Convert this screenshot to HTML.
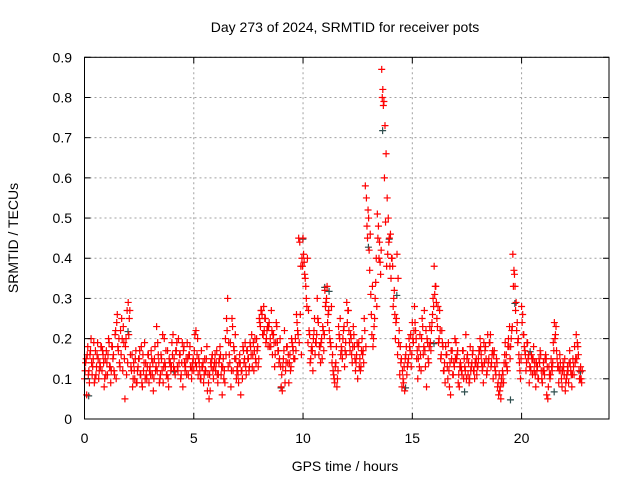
<!DOCTYPE html>
<html><head><meta charset="utf-8">
<style>
html,body{margin:0;padding:0;background:#fff;}
svg{display:block;font-family:"Liberation Sans",sans-serif;}
</style></head>
<body>
<svg id="chart" width="640" height="480" viewBox="0 0 640 480" xmlns="http://www.w3.org/2000/svg">
<rect x="0" y="0" width="640" height="480" fill="#fff"/>
<text x="345" y="32" font-size="14" text-anchor="middle" fill="#000">Day 273 of 2024, SRMTID for receiver pots</text>
<text x="0" y="0" font-size="14" text-anchor="middle" fill="#000" transform="translate(18,238) rotate(-90)">SRMTID / TECUs</text>
<text x="345" y="471" font-size="14" text-anchor="middle" fill="#000">GPS time / hours</text>
<g id="grid"></g>
<g id="red"></g>
<g id="axes"></g>
</svg>
<script>
const xTicks=[0,5,10,15,20];
const yTicks=[0,0.1,0.2,0.3,0.4,0.5,0.6,0.7,0.8,0.9];
const yTickLabels=["0","0.1","0.2","0.3","0.4","0.5","0.6","0.7","0.8","0.9"];
const redA=[
.10,.14,.06,.18,.12,.16,.20,.11,.15,.09,.17,.13,.19,.10,.14,.18,.12,.16,.08,.15,
.17,.11,.20,.13,.09,.18,.15,.12,.21,.10,.26,.17,.14,.22,.25,.12,.19,.05,.20,.27,
.29,.25,.16,.12,.08,.14,.10,.17,.09,.13,.15,.11,.18,.08,.12,.19,.14,.10,.16,.09,
.13,.17,.11,.07,.15,.12,.23,.19,.14,.10,.16,.12,.09,.20,.13,.11,.17,.08,.14,.12,
.19,.21,.15,.11,.17,.13,.20,.16,.10,.14,.08,.18,.12,.15,.19,.11,.16,.13,.10,.14,
.12,.21,.22,.16,.11,.14,.10,.17,.13,.09,.15,.12,.18,.11,.05,.07,.13,.16,.10,.14,
.12,.17,.09,.14,.18,.11,.06,.15,.12,.20,.25,.30,.19,.14,.08,.25,.12,.17,.21,.10,
.13,.09,.16,.06,.12,.18,.14,.19,.11,.17,.15,.13,.18,.21,.16,.12,.20,.14,.17,.13,
.25,.23,.27,.21,.28,.25,.19,.22,.18,.24,.20,.27,.16,.21,.13,.19,.23,.17,.14,.20,
.08,.07,.15,.22,.12,.18,.14,.09,.16,.13,.19,.17,.15,.20,.26,.22,.45,.44,.38,.40,
.45,.39,.35,.30,.40,.27,.21,.15,.18,.12,.22,.16,.19,.30,.24,.18,.14,.20,.23,.17,
.32,.29,.33,.26,.22,.19,.28,.16,.11,.09,.14,.08,.12,.21,.25,.18,.15,.22,.13,.19,
.29,.27,.22,.17,.20,.14,.23,.18,.12,.16,.10,.19,.15,.13,.20,.17,.25,.58,.55,.45,
.50,.37,.31,.21,.18,.23,.30,.40,.51,.48,.44,.36,.87,.82,.79,.73,.66,.55,.50,.45,
.46,.40,.38,.30,.26,.24,.41,.35,.22,.18,.15,.12,.09,.07,.16,.11,.14,.20,.17,.13,
.24,.19,.28,.22,.15,.10,.18,.21,.12,.25,.16,.27,.13,.08,.19,.14,.23,.17,.24,.30,
.38,.33,.29,.23,.19,.27,.15,.22,.18,.12,.09,.16,.13,.19,.08,.06,.15,.11,.14,.20,
.19,.16,.09,.08,.14,.12,.17,.10,.13,.21,.15,.11,.09,.18,.13,.16,.12,.10,.14,.11,
.13,.17,.20,.16,.12,.09,.14,.18,.11,.21,.15,.19,.13,.16,.10,.17,.12,.15,.08,.06,
.07,.05,.09,.11,.14,.19,.16,.12,.20,.23,.18,.22,.41,.37,.33,.29,.24,.20,.14,.10,
.28,.26,.21,.17,.12,.19,.15,.09,.13,.16,.11,.18,.14,.08,.12,.10,.15,.17,.12,.09,
.14,.11,.16,.06,.05,.13,.10,.15,.12,.19,.24,.21,.17,.13,.09,.16,.12,.08,.14,.11,
.07,.10,.13,.09,.17,.12,.08,.15,.11,.14,.21,.19,.16,.10,.13,.09];
const redB=[
.12,.16,.09,.14,.19,.11,.15,.13,.17,.10,
.14,.19,.12,.16,.22,.18,.13,.20,.15,.11,
.21,.13,.10,.15,.12,.17,.09,.14,.11,.16,
.11,.14,.18,.12,.09,.15,.13,.17,.10,.14,
.16,.12,.19,.14,.11,.17,.13,.15,.18,.12,
.17,.13,.15,.10,.14,.12,.07,.11,.15,.13,
.14,.11,.16,.13,.09,.22,.16,.12,.18,.15,
.11,.14,.10,.15,.17,.12,.16,.19,.15,.18,
.24,.26,.22,.20,.23,.18,.21,.16,.19,.15,
.11,.17,.14,.16,.12,.18,.15,.24,.19,.16,
.41,.33,.19,.14,.17,.25,.21,.16,.19,.22,
.28,.24,.20,.14,.10,.18,.23,.16,.20,.17,
.24,.19,.16,.21,.14,.18,.12,.16,.22,.48,
.42,.26,.20,.34,.45,.39,.80,.60,.38,.44,
.35,.28,.20,.16,.11,.08,.13,.18,.15,.21,
.20,.24,.17,.13,.20,.18,.22,.15,.19,.26,
.31,.25,.20,.16,.12,.18,.10,.14,.17,.13,
.15,.11,.13,.17,.12,.16,.10,.14,.12,.15,
.15,.18,.13,.17,.12,.19,.14,.16,.11,.09,
.08,.12,.16,.13,.18,.20,.33,.27,.19,.12,
.24,.18,.14,.16,.12,.15,.11,.13,.14,.10,
.12,.15,.08,.11,.14,.20,.15,.12,.10,.13,
.09,.12,.14,.11,.18,.15,.12,.10];
const redC=[
.15,.11,.17,.13,.10,.16,.12,.18,.14,.11,
.16,.13,.18,.11,.24,.20,.16,.23,.18,.14,
.27,.16,.12,.09,.15,.11,.16,.10,.13,.12,
.15,.10,.13,.16,.11,.21,.14,.11,.15,.13,
.13,.17,.12,.16,.19,.14,.11,.16,.13,.15,
.14,.20,.12,.13,.11,.15,.09,.14,.12,.16,
.11,.15,.13,.10,.16,.13,.19,.23,.15,.12,
.14,.12,.17,.13,.15,.19,.13,.17,.20,.15,
.27,.21,.25,.23,.18,.22,.19,.24,.17,.13,
.13,.09,.18,.14,.20,.15,.17,.21,.26,.38,
.36,.28,.22,.17,.20,.19,.25,.18,.15,.21,
.30,.27,.18,.12,.13,.10,.20,.17,.23,.16,
.27,.21,.18,.15,.19,.13,.17,.14,.18,.52,
.46,.33,.25,.28,.40,.42,.78,.49,.41,.38,
.40,.32,.25,.19,.14,.10,.15,.13,.18,.16,
.22,.20,.15,.16,.23,.17,.20,.18,.22,.28,
.33,.28,.22,.19,.14,.16,.12,.17,.11,.15,
.17,.13,.11,.15,.10,.14,.12,.17,.14,.13,
.17,.14,.19,.15,.14,.21,.17,.13,.14,.11,
.10,.09,.14,.18,.15,.23,.36,.22,.16,.15,
.21,.16,.19,.13,.15,.12,.14,.10,.16,.12,
.15,.13,.11,.13,.17,.23,.13,.14,.12,.15,
.11,.14,.11,.13,.15,.18,.10,.12];
const darkTimes=[0.1,1.9,4.0,8.9,9.9,10.9,11.1,12.9,13.55,13.85,14.2,14.6,15.9,17.3,19.4,19.6,20.3,21.4,22.6];
const darkValues=[0.06,0.22,0.12,0.08,0.45,0.33,0.32,0.43,0.72,0.45,0.31,0.08,0.19,0.07,0.05,0.29,0.17,0.07,0.12];
const X0=84.5,X1=609,Y0=419,Y1=57.3,XMAX=24,YMAX=0.9;
const sx=v=>X0+(X1-X0)*v/XMAX;
const sy=v=>Y0-(Y0-Y1)*v/YMAX;
const NS="http://www.w3.org/2000/svg";
function mk(tag,attrs,parent){const e=document.createElementNS(NS,tag);for(const k in attrs)e.setAttribute(k,attrs[k]);parent.appendChild(e);return e;}
const grid=document.getElementById('grid'),axes=document.getElementById('axes');
xTicks.forEach((t,i)=>{
  const x=sx(t);
  if(t>0){const g=mk('line',{x1:x,x2:x,y1:Y1,y2:Y0,stroke:'#a0a0a0','stroke-dasharray':'2,3','stroke-width':1},grid);
  
  }
  mk('line',{x1:x,x2:x,y1:Y0,y2:Y0-6,stroke:'#000'},axes);
  mk('line',{x1:x,x2:x,y1:Y1,y2:Y1+6,stroke:'#000'},axes);
  const tx=mk('text',{x:x,y:443,'font-size':14,'text-anchor':'middle',fill:'#000'},axes);
  tx.textContent=String(t);
  
  
});
yTicks.forEach((t,i)=>{
  const y=sy(t);
  if(t>0){const g=mk('line',{x1:X0,x2:X1,y1:y,y2:y,stroke:'#a0a0a0','stroke-dasharray':'2,3','stroke-width':1},grid);
  
  }
  mk('line',{x1:X0,x2:X0+6,y1:y,y2:y,stroke:'#000'},axes);
  mk('line',{x1:X1,x2:X1-6,y1:y,y2:y,stroke:'#000'},axes);
  const tx=mk('text',{x:72,y:y+5,'font-size':14,'text-anchor':'end',fill:'#000'},axes);
  tx.textContent=yTickLabels[i];
  
  
});
const frame=mk('rect',{x:X0,y:Y1,width:X1-X0,height:Y0-Y1,fill:'none',stroke:'#000','stroke-width':1},axes);


function plus(g,x,y,color){
  return mk('path',{d:`M${x-3.5},${y}H${x+3.5}M${x},${y-3.5}V${y+3.5}`,stroke:color,'stroke-width':1.2,fill:'none'},g);
}
const red=document.getElementById('red');
darkTimes.forEach((t,i)=>{
  const p=plus(red,sx(t)+2,sy(darkValues[i])+1,'#2f4f4f');
  
  
});
redA.forEach((v,i)=>{
  const p=plus(red,sx(i*0.05),sy(v),'#ff0000');
  
  
});
redB.forEach((v,i)=>{
  const p=plus(red,sx(0.025+i*0.1),sy(v),'#ff0000');
  
  
});
redC.forEach((v,i)=>{
  const p=plus(red,sx(0.075+i*0.1),sy(v),'#ff0000');
  
  
});
</script>
</body></html>
